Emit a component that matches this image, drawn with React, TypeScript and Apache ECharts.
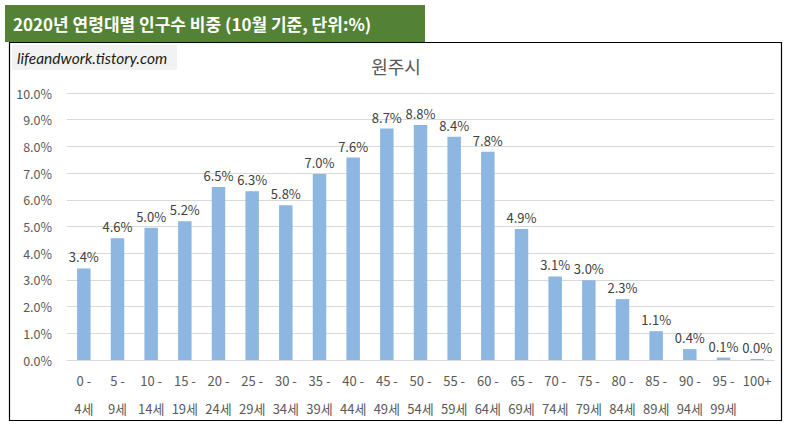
import React, { useEffect, useRef } from "react";
import * as echarts from "echarts";

const categories = ["0 -\n4세", "5 -\n9세", "10 -\n14세", "15 -\n19세", "20 -\n24세", "25 -\n29세", "30 -\n34세", "35 -\n39세", "40 -\n44세", "45 -\n49세", "50 -\n54세", "55 -\n59세", "60 -\n64세", "65 -\n69세", "70 -\n74세", "75 -\n79세", "80 -\n84세", "85 -\n89세", "90 -\n94세", "95 -\n99세", "100+"];
const shares = [3.43, 4.56, 4.95, 5.2, 6.48, 6.32, 5.8, 6.97, 7.58, 8.67, 8.8, 8.36, 7.8, 4.91, 3.13, 2.99, 2.28, 1.08, 0.41, 0.09, 0.04];
const yTicks = [0, 1, 2, 3, 4, 5, 6, 7, 8, 9, 10];
const headerText = "2020년 연령대별 인구수 비중 (10월 기준, 단위:%)";
const chartTitle = "원주시";
const watermark = "lifeandwork.tistory.com";

const KR = "'Noto Sans CJK KR', 'Noto Sans', sans-serif";

export default function App() {
  const ref = useRef<HTMLDivElement>(null);
  useEffect(() => {
    if (!ref.current) return;
    const chart = echarts.init(ref.current, null, { renderer: "svg" });
    chart.setOption({
      animation: false,
      backgroundColor: "#ffffff",
      title: {
        text: chartTitle,
        left: 391,
        top: 52,
        textAlign: "center",
        textStyle: { fontFamily: KR, fontSize: 18, fontWeight: "normal", color: "#595959" },
      },
      graphic: [
        { type: "rect", shape: { x: 5, y: 5, width: 420, height: 37 }, style: { fill: "#538135" }, z: 10 },
        { type: "text", x: 13, y: 23, style: { text: headerText, fill: "#ffffff", font: `bold 17px ${KR}`, verticalAlign: "middle" }, z: 11 },
        { type: "rect", shape: { x: 9.5, y: 42.5, width: 772, height: 378 }, style: { fill: "none", stroke: "#000000", lineWidth: 1.2 }, z: 10 },
        { type: "rect", shape: { x: 12, y: 45, width: 165, height: 25 }, style: { fill: "#f2f2f2" }, z: 10 },
        { type: "text", x: 17, y: 57.5, style: { text: watermark, fill: "#1a1a1a", font: `italic normal 15.5px Lato, 'Open Sans', sans-serif`, verticalAlign: "middle" }, z: 11 },
      ],
      grid: { left: 67, right: 13, top: 93, bottom: 66 },
      xAxis: {
        type: "category",
        data: categories,
        axisLine: { lineStyle: { color: "#d9d9d9" } },
        axisTick: { show: false },
        axisLabel: {
          interval: 0,
          margin: 6,
          lineHeight: 28,
          fontFamily: KR,
          fontSize: 13,
          color: "#595959",
        },
      },
      yAxis: {
        type: "value",
        min: 0,
        max: 10,
        interval: 1,
        axisLine: { show: false },
        axisTick: { show: false },
        splitLine: { lineStyle: { color: "#d9d9d9" } },
        axisLabel: {
          margin: 15,
          fontFamily: KR,
          fontSize: 12.5,
          color: "#595959",
          formatter: (v: number) => (yTicks.includes(v) ? v.toFixed(1) + "%" : ""),
        },
      },
      series: [
        {
          type: "bar",
          data: shares,
          barWidth: "40%",
          itemStyle: { color: "#8DB6E1" },
          label: {
            show: true,
            position: "top",
            distance: 5,
            fontFamily: KR,
            fontSize: 13,
            color: "#404040",
            formatter: (p: any) => p.value.toFixed(1) + "%",
          },
        },
      ],
    });
    return () => chart.dispose();
  }, []);
  return <div ref={ref} style={{ position: "fixed", left: 0, top: 0, width: 787, height: 426 }} />;
}
